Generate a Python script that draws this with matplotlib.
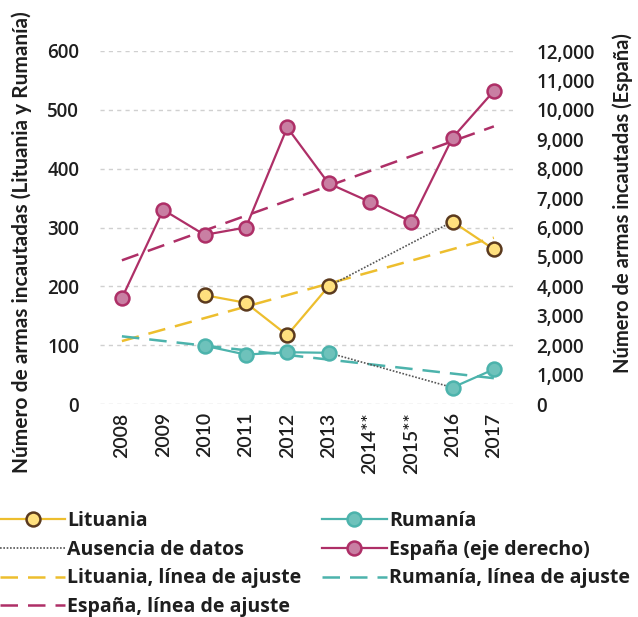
# Armas incautadas: Lituania y Rumanía (eje izq.) frente a España (eje der.)
import matplotlib
matplotlib.use("Agg")
import matplotlib.pyplot as plt
from matplotlib.lines import Line2D
from matplotlib.ticker import FuncFormatter, MultipleLocator
import numpy as np

plt.rcParams['font.family'] = ['Lato', 'DejaVu Sans']
WIDE = ['Open Sans', 'DejaVu Sans']

YEARS = ["2008", "2009", "2010", "2011", "2012", "2013", "2014**", "2015**", "2016", "2017"]
LITUANIA = [np.nan, np.nan, 185, 172, 117, 200, np.nan, np.nan, 310, 263]
RUMANIA = [np.nan, np.nan, 99, 84, 88, 87, np.nan, np.nan, 28, 59]
ESPANA = [3600, 6600, 5750, 6000, 9400, 7500, 6870, 6200, 9050, 10640]

C_LIT = "#EDBE2E"
C_LIT_FACE = "#FFE07E"
C_LIT_EDGE = "#5B3A1E"
C_RUM = "#4CB3AC"
C_RUM_FACE = "#6EC2BB"
C_ESP = "#AE2F67"
C_ESP_FACE = "#C97FA3"
C_TXT = "#1e1e1e"


def trend(values):
    x = np.arange(len(values))
    y = np.array(values, dtype=float)
    ok = ~np.isnan(y)
    a, b = np.polyfit(x[ok], y[ok], 1)
    return x, a * x + b


def gap_line(values, i0, i1):
    return [i0, i1], [values[i0], values[i1]]


def main():
    W, H = 638, 617
    fig = plt.figure(figsize=(W / 100, H / 100), dpi=100)
    ax = fig.add_axes([100 / W, 1 - 404 / H, 417 / W, 353 / H])
    ax2 = ax.twinx()
    x = np.arange(len(YEARS))

    dash = (7, 4)
    # trend lines
    tx, ty = trend(LITUANIA)
    ax.plot(tx, ty, color=C_LIT, lw=1.8, dashes=dash, zorder=2)
    tx, ty = trend(RUMANIA)
    ax.plot(tx, ty, color=C_RUM, lw=1.8, dashes=dash, zorder=2)
    tx, ty = trend(ESPANA)
    ax2.plot(tx, ty, color=C_ESP, lw=1.8, dashes=dash, zorder=2)

    # missing data
    gx, gy = gap_line(LITUANIA, 5, 8)
    ax.plot(gx, gy, color="#555555", lw=1.2, ls=(0, (1, 1)), zorder=3)
    gx, gy = gap_line(RUMANIA, 5, 8)
    ax.plot(gx, gy, color="#555555", lw=1.2, ls=(0, (1, 1)), zorder=3)

    # data
    ax.plot(x, LITUANIA, color=C_LIT, lw=1.6, marker="o", ms=10,
            mfc=C_LIT_FACE, mec=C_LIT_EDGE, mew=1.8, zorder=4)
    ax.plot(x, RUMANIA, color=C_RUM, lw=1.6, marker="o", ms=10,
            mfc=C_RUM_FACE, mec=C_RUM, mew=1.8, zorder=4)
    ax2.plot(x, ESPANA, color=C_ESP, lw=1.6, marker="o", ms=10,
             mfc=C_ESP_FACE, mec=C_ESP, mew=1.8, zorder=4)

    ax.set_xlim(-0.53, 9.56)
    ax.set_ylim(0, 600)
    ax2.set_ylim(0, 12000)
    ax.yaxis.set_major_locator(MultipleLocator(100))
    ax2.yaxis.set_major_locator(MultipleLocator(1000))
    ax2.yaxis.set_major_formatter(FuncFormatter(lambda v, p: f"{int(v):,}"))
    ax.set_xticks(x)
    ax.set_xticklabels(YEARS, rotation=90, va="top")

    ax.grid(axis="y", color="#d0d0d0", ls=(0, (3, 3)), lw=1)
    for a in (ax, ax2):
        for s in a.spines.values():
            s.set_visible(False)
        a.tick_params(length=0, labelsize=14, labelcolor=C_TXT)
        for t in a.get_xticklabels():
            t.set_fontweight("semibold")
        for t in a.get_yticklabels():
            t.set_fontweight("semibold")
            t.set_family(WIDE)
            t.set_fontsize(13.5)
    ax.tick_params(axis="y", pad=15)
    ax.tick_params(axis="x", pad=6)
    ax2.tick_params(axis="y", pad=14)

    fig.text(22 / W, 1 - 242 / H, "Número de armas incautadas (Lituania y Rumanía)",
             rotation=90, ha="center", va="center", fontsize=15, fontweight="bold", color=C_TXT)
    fig.text(623 / W, 1 - 203 / H, "Número de armas incautadas (España)",
             rotation=90, ha="center", va="center", fontsize=14.5, fontweight="bold", color=C_TXT)

    handles = [
        Line2D([], [], color=C_LIT, lw=1.6, marker="o", ms=10, mfc=C_LIT_FACE, mec=C_LIT_EDGE, mew=1.8),
        Line2D([], [], color="#555555", lw=1.2, ls=(0, (1, 1))),
        Line2D([], [], color=C_LIT, lw=1.8, dashes=dash),
        Line2D([], [], color=C_ESP, lw=1.8, dashes=dash),
        Line2D([], [], color=C_RUM, lw=1.6, marker="o", ms=10, mfc=C_RUM_FACE, mec=C_RUM, mew=1.8),
        Line2D([], [], color=C_ESP, lw=1.6, marker="o", ms=10, mfc=C_ESP_FACE, mec=C_ESP, mew=1.8),
        Line2D([], [], color=C_RUM, lw=1.8, dashes=dash),
    ]
    labels = ["Lituania", "Ausencia de datos", "Lituania, línea de ajuste",
              "España, línea de ajuste", "Rumanía", "España (eje derecho)",
              "Rumanía, línea de ajuste"]
    leg = fig.legend(handles, labels, loc="upper left", bbox_to_anchor=(0.0, 1 - 511 / H),
                     ncol=2, frameon=False, handlelength=3.35, handletextpad=0.1,
                     columnspacing=1.05, labelspacing=0.45, borderpad=0, borderaxespad=0,
                     prop={"size": 14, "weight": "bold", "family": WIDE})
    for t in leg.get_texts():
        t.set_color(C_TXT)

    fig.savefig("out.png", dpi=100)


if __name__ == '__main__':
    main()
